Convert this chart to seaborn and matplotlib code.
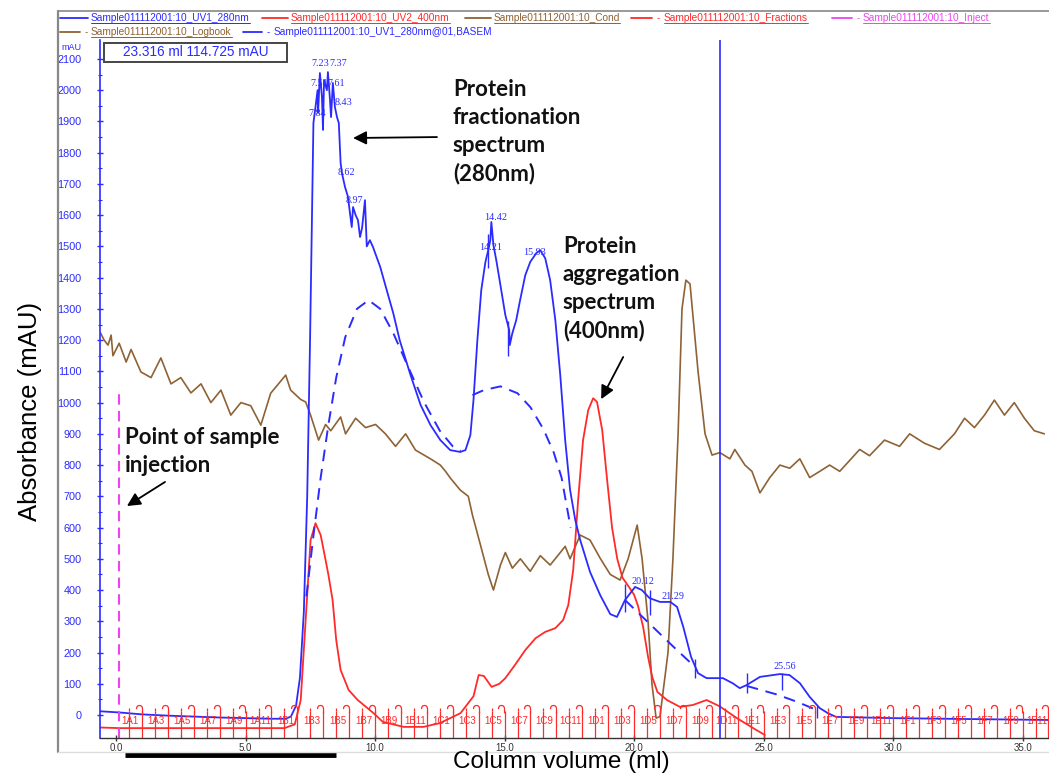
import numpy as np
import pandas as pd
import matplotlib
matplotlib.use("Agg")
import matplotlib.pyplot as plt
from matplotlib.lines import Line2D
from matplotlib.patches import Rectangle
from matplotlib.path import Path
from matplotlib.transforms import blended_transform_factory
import seaborn as sns

# ---------------- chromatogram traces (volume ml, signal) ----------------
uv280 = [(-0.62, 12), (0.15, 8), (1.0, 2), (2.0, -2), (3.0, -5), (4.0, -8), (5.0, -10),
         (6.0, -12), (6.55, -12), (6.75, -5), (6.95, 30), (7.1, 120), (7.25, 330),
         (7.38, 700), (7.49, 1200), (7.57, 1626), (7.62, 1895), (7.70, 1946), (7.78, 2000),
         (7.80, 1927), (7.87, 2055), (7.95, 1978), (7.99, 1873), (8.03, 2033), (8.14, 2000),
         (8.18, 2058), (8.26, 1969), (8.30, 1914), (8.37, 2023), (8.45, 1946), (8.53, 1914),
         (8.60, 1895), (8.67, 1767), (8.72, 1735), (8.84, 1690), (8.95, 1660), (9.10, 1562),
         (9.15, 1626), (9.25, 1600), (9.34, 1584), (9.42, 1530), (9.50, 1560), (9.61, 1648),
         (9.68, 1500), (9.80, 1520), (9.92, 1498), (10.2, 1434), (10.45, 1360), (10.7, 1287),
         (10.95, 1200), (11.37, 1088), (11.76, 992), (12.14, 928), (12.52, 880), (12.9, 848),
         (13.29, 842), (13.49, 848), (13.68, 896), (13.8, 1008), (13.95, 1200), (14.1, 1360),
         (14.26, 1450), (14.37, 1488), (14.45, 1520), (14.49, 1578), (14.57, 1504),
         (14.68, 1456), (14.84, 1376), (15.03, 1280), (15.18, 1232), (15.2, 1184),
         (15.3, 1222), (15.45, 1264), (15.6, 1328), (15.8, 1408), (15.99, 1450),
         (16.22, 1478), (16.38, 1488), (16.57, 1462), (16.76, 1392), (16.96, 1264),
         (17.15, 1088), (17.34, 880), (17.53, 720), (17.73, 624), (17.92, 560), (18.3, 458),
         (18.69, 384), (19.08, 323), (19.34, 314), (19.65, 368), (20.04, 410), (20.3, 400),
         (20.6, 374), (21.0, 362), (21.4, 362), (21.66, 346), (21.9, 282), (22.2, 186),
         (22.47, 134), (22.8, 118), (23.43, 118), (23.8, 102), (24.08, 86), (24.35, 96),
         (24.86, 122), (25.63, 131), (26.0, 128), (26.4, 102), (26.78, 58), (27.17, 22),
         (27.5, 5), (27.8, -6), (30.0, -10), (33.0, -13), (36.1, -16)]

baseline_1 = [(7.35, 380), (7.6, 560), (7.9, 760), (8.2, 930), (8.5, 1080), (8.85, 1210),
              (9.3, 1300), (9.75, 1328), (10.2, 1300), (10.7, 1223), (11.3, 1110),
              (11.9, 1000), (12.5, 910), (13.0, 860), (13.3, 845)]
baseline_2 = [(13.76, 1024), (14.2, 1040), (14.84, 1052), (15.5, 1030), (16.0, 985),
              (16.5, 915), (16.9, 840), (17.2, 760), (17.55, 600)]
baseline_3 = [(19.65, 368), (20.5, 300), (21.5, 220), (22.35, 154)]
baseline_4 = [(24.35, 93), (25.5, 66), (26.3, 42), (27.05, 16)]

uv400 = [(-0.62, -40), (0.15, -42), (3.0, -42), (6.5, -42), (6.9, -30), (7.13, 48),
         (7.32, 304), (7.51, 560), (7.7, 614), (7.9, 576), (8.09, 496), (8.2, 448),
         (8.36, 368), (8.5, 240), (8.67, 144), (8.98, 80), (9.33, 48), (9.94, 6),
         (10.3, -22), (11.1, -38), (11.87, -38), (12.5, -26), (13.3, 6), (13.8, 60),
         (14.0, 128), (14.2, 125), (14.5, 90), (14.8, 100), (15.03, 118), (15.4, 160),
         (15.8, 208), (16.2, 246), (16.57, 266), (16.96, 278), (17.26, 304), (17.46, 352),
         (17.65, 464), (17.84, 688), (18.03, 880), (18.23, 976), (18.42, 1014),
         (18.57, 1002), (18.77, 912), (18.96, 752), (19.15, 600), (19.35, 500),
         (19.55, 440), (19.8, 410), (20.0, 385), (20.15, 350), (20.35, 282), (20.54, 186),
         (20.7, 122), (20.9, 74), (21.27, 48), (21.77, 26), (22.27, 32), (22.8, 48),
         (23.3, 28), (23.97, -10), (24.6, -42), (25.05, -64)]

conductivity = [(-0.6, 1223), (-0.46, 1200), (-0.31, 1184), (-0.19, 1216), (-0.12, 1150),
                (0.12, 1190), (0.39, 1130), (0.58, 1170), (0.96, 1098), (1.35, 1080),
                (1.73, 1143), (2.12, 1060), (2.5, 1080), (2.89, 1031), (3.28, 1060),
                (3.66, 1000), (4.05, 1040), (4.43, 960), (4.82, 1000), (5.2, 990),
                (5.59, 928), (5.97, 1030), (6.55, 1088), (6.74, 1040), (7.13, 1010),
                (7.32, 1002), (7.51, 960), (7.82, 880), (8.09, 930), (8.29, 910),
                (8.67, 954), (8.86, 900), (9.25, 950), (9.63, 920), (10.02, 930),
                (10.4, 900), (10.79, 860), (11.18, 900), (11.56, 848), (12.14, 820),
                (12.52, 800), (12.72, 780), (12.91, 758), (13.29, 720), (13.6, 700),
                (13.76, 640), (14.07, 544), (14.37, 450), (14.57, 400), (14.84, 480),
                (15.03, 520), (15.3, 470), (15.61, 500), (15.99, 460), (16.38, 510),
                (16.76, 480), (17.15, 520), (17.34, 540), (17.53, 500), (17.92, 576),
                (18.3, 560), (18.69, 502), (19.08, 450), (19.46, 432), (19.77, 500),
                (20.12, 608), (20.31, 500), (20.54, 300), (20.69, 100), (20.85, -10),
                (21.0, -5), (21.31, 200), (21.5, 500), (21.7, 900), (21.85, 1300),
                (22.0, 1392), (22.16, 1380), (22.47, 1100), (22.74, 900), (23.01, 832),
                (23.31, 840), (23.7, 820), (23.89, 850), (24.28, 800), (24.55, 780),
                (24.86, 711), (25.24, 760), (25.63, 800), (26.01, 790), (26.4, 820),
                (26.78, 760), (27.17, 780), (27.55, 800), (27.94, 780), (28.71, 850),
                (29.09, 830), (29.67, 880), (30.25, 860), (30.64, 900), (31.21, 870),
                (31.79, 850), (32.37, 900), (32.76, 950), (33.14, 920), (33.53, 960),
                (33.91, 1008), (34.3, 960), (34.68, 1000), (35.07, 950), (35.45, 910),
                (35.84, 900)]

inject_ml = 0.1
cursor_ml = 23.316
cursor_mau = 114.725

peak_labels = ["7.23", "7.37", "7.51", "7.61", "7.84", "8.43", "8.62", "8.97",
               "14.42", "14.21", "15.93", "20.12", "21.29", "25.56"]

fraction_rows = ["A", "B", "C", "D", "E", "F"]
fraction_width = 0.5

y_ticks = list(range(0, 2101, 100))
x_ticks = [0, 5, 10, 15, 20, 25, 30, 35]

legend_row1 = ["Sample011112001:10_UV1_280nm", "Sample011112001:10_UV2_400nm",
               "Sample011112001:10_Cond", "Sample011112001:10_Fractions",
               "Sample011112001:10_Inject"]
legend_row2 = ["Sample011112001:10_Logbook", "Sample011112001:10_UV1_280nm@01,BASEM"]

# ---------------- styling ----------------
BLUE = "#2b2bff"
RED = "#ff2a2a"
BROWN = "#8e6234"
PINK = "#ee44ee"
W, H = 1049, 773

sns.set_theme(style="white")
plt.rcParams["font.family"] = ["Liberation Sans", "DejaVu Sans"]

fig = plt.figure(figsize=(W / 100, H / 100), dpi=100)
ax = fig.add_axes([100 / W, 1 - 738 / H, (W - 100) / W, (738 - 40) / H])
ax.set_facecolor("white")


def frame(pairs):
    return pd.DataFrame(pairs, columns=["ml", "mAU"])


def trace(pairs, color, lw=1.3, ls="-"):
    sns.lineplot(data=frame(pairs), x="ml", y="mAU", ax=ax, color=color, lw=lw,
                 linestyle=ls, estimator=None, sort=False, legend=False)


trace(conductivity, BROWN, 1.2)
trace(uv400, RED, 1.3)
for seg in (baseline_1, baseline_2, baseline_3, baseline_4):
    trace(seg, BLUE, 1.4, (0, (6, 4)))
trace(uv280, BLUE, 1.3)

# fraction marks along the bottom
frac_pos = np.arange(0.5, 36.01, fraction_width)
ax.vlines(frac_pos, -74, 14, colors=RED, lw=0.9)
hook = Path([(-1.0, -0.2), (-0.9, 0.45), (-0.5, 0.9), (0.0, 1.0), (0.5, 0.9), (0.9, 0.45),
             (1.0, -0.2), (1.0, -1.6)],
            [Path.MOVETO] + [Path.LINETO] * 7)
whole = frac_pos[np.isclose(frac_pos % 1, 0)]
ax.plot(whole - 0.12, np.full(len(whole), 24), ls="none", marker=hook, ms=7,
        mfc="none", mec=RED, mew=0.9)
half = frac_pos[~np.isclose(frac_pos % 1, 0)]
ax.vlines(half, 14, 22, colors=RED, lw=0.9)
frac_names = [f"1{r}{n}" for r in fraction_rows for n in range(1, 13)]
for i, name in enumerate(frac_names[::2]):
    ax.text(0.55 + i * 1.0, -19, name, color=RED, fontsize=7, ha="center", va="center")

# injection mark and cursor
ax.vlines(inject_ml, -74, 1030, colors=PINK, lw=1.5, linestyles=(0, (5, 3)))
ax.axvline(cursor_ml, color=BLUE, lw=1.2)

# peak labels and tick marks
label_pos = [(7.55, 2085), (8.22, 2085), (7.5, 2023), (8.17, 2023), (7.42, 1927),
             (8.42, 1962), (8.57, 1738), (8.85, 1648), (14.22, 1594), (14.03, 1498),
             (15.73, 1479), (19.9, 426), (21.05, 378), (25.38, 154)]
for txt, (px_, py_) in zip(peak_labels, label_pos):
    ax.text(px_, py_, txt, color=BLUE, fontsize=7.3, family=["Liberation Serif", "DejaVu Serif"],
            ha="left", va="center")
for xm, y0, y1 in [(19.65, 330, 420), (20.6, 320, 400), (22.35, 120, 180),
                   (24.35, 70, 135), (25.7, 80, 135), (27.05, -8, 30),
                   (14.35, 1430, 1540), (15.15, 1150, 1260)]:
    ax.vlines(xm, y0, y1, colors=BLUE, lw=1.0)

ax.set_xlim(-0.62, 36.02)
ax.set_ylim(-73.6, 2160.7)
ax.set_xlabel("")
ax.set_ylabel("")
for s in ("top", "right"):
    ax.spines[s].set_visible(False)
ax.spines["left"].set_color(BLUE)
ax.spines["left"].set_linewidth(1.2)
ax.spines["bottom"].set_color("#333333")
ax.spines["bottom"].set_linewidth(1.0)
ax.set_yticks(y_ticks)
ax.set_yticklabels([str(v) for v in y_ticks])
ax.set_yticks(np.arange(50, 2100, 100), minor=True)
ax.set_xticks(x_ticks)
ax.set_xticklabels([f"{v:.1f}" for v in x_ticks])
ax.set_xticks(np.arange(2.5, 36, 5), minor=True)
ax.tick_params(axis="y", which="major", direction="inout", length=5, width=1, color=BLUE,
               labelcolor=BLUE, labelsize=7.8, pad=11, left=True)
ax.tick_params(axis="y", which="minor", direction="inout", length=3, width=0.8, color=BLUE, left=True)
ax.tick_params(axis="x", which="major", direction="inout", length=5, width=1, color="#333333",
               labelcolor="#333333", labelsize=7, pad=1, bottom=True)
ax.tick_params(axis="x", which="minor", direction="in", length=3, width=0.8, color="#333333",
               bottom=True)

# black range bar below the axis
bt = blended_transform_factory(ax.transData, ax.transAxes)
ax.plot([0.35, 8.5], [-0.024, -0.024], transform=bt, clip_on=False, color="black", lw=3.5,
        solid_capstyle="butt")

# annotations
bold = dict(family=["Lato", "DejaVu Sans"], weight="bold", fontsize=16, color="#111111",
            linespacing=1.4, va="top", ha="left")
ax.text(13.0, 2036, "Protein\nfractionation\nspectrum\n(280nm)", **bold)
ax.text(17.25, 1532, "Protein\naggregation\nspectrum\n(400nm)", **bold)
ax.text(0.33, 922, "Point of sample\ninjection", **bold)
arrow = dict(arrowstyle="-|>", color="black", lw=1.3, mutation_scale=20, shrinkA=0, shrinkB=0)
ax.annotate("", xy=(9.15, 1847), xytext=(12.39, 1850), arrowprops=arrow)
ax.annotate("", xy=(18.73, 1011), xytext=(19.58, 1146), arrowprops=arrow)
ax.annotate("", xy=(0.42, 669), xytext=(1.89, 746), arrowprops=arrow)

# cursor read-out box
fig.add_artist(Rectangle((104 / W, 1 - 62 / H), 183 / W, 19 / H, transform=fig.transFigure,
                         fc="white", ec="#444444", lw=1.4))
fig.text(196 / W, 1 - 52.5 / H, f"{cursor_ml:.3f} ml {cursor_mau:.3f} mAU", color=BLUE,
         fontsize=9.8, ha="center", va="center")
fig.text(61 / W, 1 - 47 / H, "mAU", color=BLUE, fontsize=6.5, ha="left", va="center")

# axis titles
fig.text(30 / W, 1 - 411 / H, "Absorbance (mAU)", rotation=90, fontsize=18.5,
         ha="center", va="center", color="black")
fig.text(561 / W, 1 - 762 / H, "Column volume (ml)", fontsize=17.5, ha="center",
         va="center", color="black")


def fline(x0, x1, y0, y1, color, lw=1.2, ls="-"):
    fig.add_artist(Line2D([x0 / W, x1 / W], [1 - y0 / H, 1 - y1 / H], color=color, lw=lw,
                          ls=ls, transform=fig.transFigure))


# outer window frame
fline(58, 58, 11, 752, "#888888", 1.6)
fline(58, W, 11, 11, "#888888", 1.2)
fline(58, W, 752, 752, "#dddddd", 1.0)

# trace key
key_font = dict(fontsize=7.3, va="center", ha="left")
texts = []
row1 = [(60, 88, None, 91, BLUE), (262, 288, None, 291, RED), (465, 491, None, 494, BROWN),
        (631, 652, 658, 664, RED), (832, 852, 858, 863, PINK)]
for (l0, l1, dot, tx, col), label in zip(row1, legend_row1):
    fline(l0, l1, 18, 18, col, 1.3)
    if dot:
        fig.text(dot / W, 1 - 18 / H, "-", color=col, ha="center", va="center", fontsize=7)
    texts.append((fig.text(tx / W, 1 - 18 / H, label, color=col, **key_font), col, True))
row2 = [(60, 80, 86, 91, BROWN, True), (243, 262, 268, 274, BLUE, False)]
for (l0, l1, dot, tx, col, ul), label in zip(row2, legend_row2):
    fline(l0, l1, 32, 32, col, 1.3)
    fig.text(dot / W, 1 - 32 / H, "-", color=col, ha="center", va="center", fontsize=7)
    texts.append((fig.text(tx / W, 1 - 32 / H, label, color=col, **key_font), col, ul))

fig.canvas.draw()
renderer = fig.canvas.get_renderer()
for t, col, ul in texts:
    if not ul:
        continue
    bb = t.get_window_extent(renderer)
    yb = bb.y0 + 0.5
    fig.add_artist(Line2D([bb.x0 / W, bb.x1 / W], [yb / H, yb / H], color=col, lw=0.7,
                          transform=fig.transFigure))

fig.savefig("out.png", dpi=100, facecolor="white")
